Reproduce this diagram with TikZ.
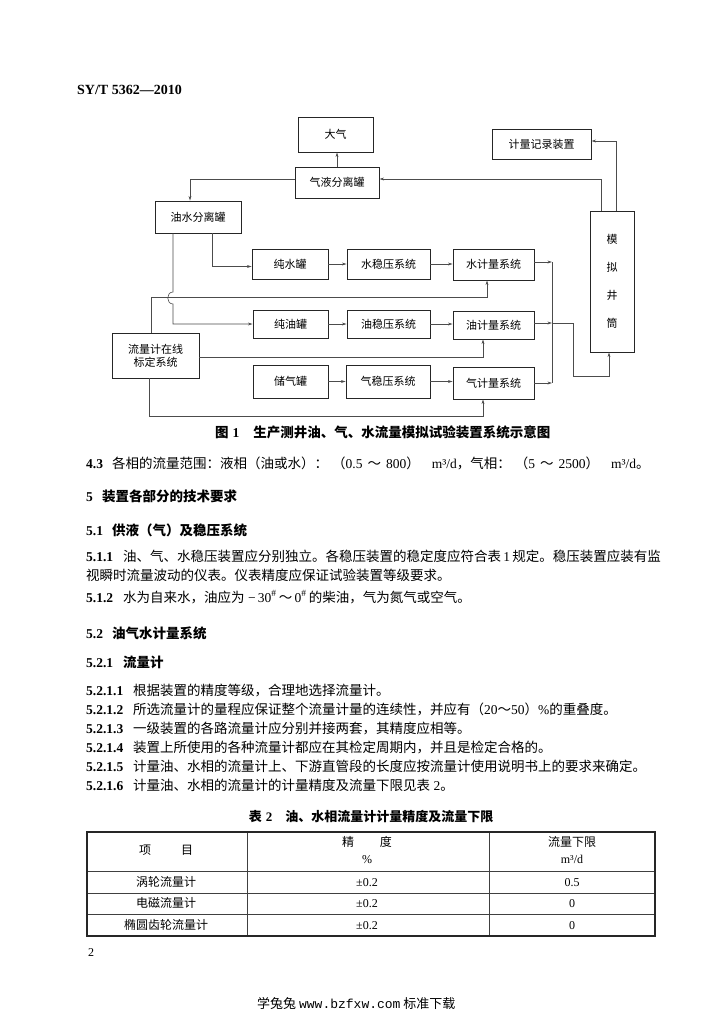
\documentclass[tikz,border=0pt]{standalone}
\usepackage{fontspec}
\setmainfont{Noto Sans CJK SC}
\newfontfamily\tm{Liberation Serif}
\newfontfamily\mono{Liberation Mono}
\usetikzlibrary{arrows.meta,calc}
\newcommand\fsz[1]{\fontsize{#1}{#1}\selectfont}
\begin{document}
\begin{tikzpicture}[x=1pt,y=-1pt,
  box/.style={draw=black!85,line width=0.9pt,inner sep=0pt,font=\fontsize{11}{13}\selectfont},
  conn/.style={draw=black!70,line width=0.6pt},
  arr/.style={conn,-{Stealth[length=4.5pt,width=2.8pt]}},
  txt/.style={anchor=base west,inner sep=0pt,font=\fsz{13.5}},
  btxt/.style={anchor=base west,inner sep=0pt,font=\fsz{13.5}\bfseries},
  num/.style={anchor=base west,inner sep=0pt,font=\fsz{13.5}\tm\bfseries},
  cell/.style={anchor=base,inner sep=0pt,font=\fsz{12}},
  tcell/.style={anchor=base,inner sep=0pt,font=\fsz{12}\tm},
  outer/.style={line width=1.1pt,draw=black!85},
  inner/.style={line width=0.6pt,draw=black!75}
]
\useasboundingbox (0,0) rectangle (725,1024);
\fill[white] (0,0) rectangle (725,1024);

% header
\node[anchor=base west,inner sep=0pt,font=\fsz{14}\tm\bfseries] (hdr) at (77,95) {SY/T 5362—2010};

% ---- diagram boxes ----
\node[box,minimum width=75pt,minimum height=35pt] (dq) at (335.5,134.5) {大气};
\node[box,minimum width=84pt,minimum height=31pt] (qy) at (337,182.5) {气液分离罐};
\node[box,minimum width=86pt,minimum height=32pt] (yw) at (198,217) {油水分离罐};
\node[box,minimum width=99pt,minimum height=30pt] (jl) at (541.5,144) {计量记录装置};
\node[box,minimum width=44pt,minimum height=141pt,align=center] (mn) at (612,281.5) {模\\[15pt]拟\\[15pt]井\\[15pt]筒};
\node[box,minimum width=76pt,minimum height=30pt] (cs) at (290,264) {纯水罐};
\node[box,minimum width=83pt,minimum height=30pt] (sw) at (388.5,264) {水稳压系统};
\node[box,minimum width=81pt,minimum height=31pt] (sj) at (493.5,264.5) {水计量系统};
\node[box,minimum width=75pt,minimum height=28pt] (cy) at (290.5,324) {纯油罐};
\node[box,minimum width=83pt,minimum height=28pt] (yw2) at (388.5,324) {油稳压系统};
\node[box,minimum width=81pt,minimum height=28pt] (yj) at (493.5,325) {油计量系统};
\node[box,minimum width=75pt,minimum height=33pt] (cq) at (290.5,381.5) {储气罐};
\node[box,minimum width=84pt,minimum height=33pt] (qw) at (388,381.5) {气稳压系统};
\node[box,minimum width=81pt,minimum height=32pt] (qj) at (493.5,383) {气计量系统};
\node[box,minimum width=87pt,minimum height=45pt,align=center] (ll) at (155.5,355.5) {流量计在线\\标定系统};

% ---- connectors ----
\draw[arr] (qy.north) -- (qy.north |- dq.south);
\draw[arr] ([yshift=3.5pt]qy.west) -| ([xshift=-8pt]yw.north);
\draw[arr] ([xshift=-11pt]mn.north) |- ([yshift=3.5pt]qy.east);
\draw[arr] ([xshift=4pt]mn.north) |- ([yshift=3pt]jl.east);
\draw[arr] ([xshift=14pt]yw.south) |- ([yshift=-2.5pt]cs.west);
\coordinate (h1) at (173,292);
\coordinate (h2) at (173,304);
\draw[arr] ([xshift=-25pt]yw.south) -- (h1) .. controls (166,292) and (166,304) .. (h2) |- (cy.west);
\draw[arr] ([xshift=-4.5pt]ll.north) -- ++(0,-35) -| ([xshift=-6.5pt]sj.south);
\draw[arr] ([yshift=-1.5pt]ll.east) -| ([xshift=-10.5pt]yj.south);
\draw[arr] ([xshift=-6.5pt]ll.south) -- ++(0,38) -| ([xshift=-10.5pt]qj.south);

\draw[arr] (cs.east) -- (cs.east -| sw.west);
\draw[arr] (sw.east) -- (sw.east -| sj.west);
\draw[arr] (cy.east) -- (cy.east -| yw2.west);
\draw[arr] (yw2.east) -- (yw2.east -| yj.west);
\draw[arr] (cq.east) -- (cq.east -| qw.west);
\draw[arr] (qw.east) -- (qw.east -| qj.west);

\coordinate (b1) at (552,262);
\coordinate (b2) at (552,323);
\coordinate (b3) at (552,383);
\coordinate (t1) at (573,376);
\draw[arr] ([yshift=2.5pt]sj.east) -- (b1);
\draw[arr] ([yshift=2pt]yj.east) -- (b2);
\draw[arr] (qj.east) -- (b3);
\draw[conn] (b1) -- (b3);
\draw[arr] (b2) -| (t1) -| ([xshift=-3pt]mn.south);

% caption
\node[btxt] (cap1) at (215,437) {图\hspace{4pt}{\tm 1}\hspace{14pt}生产测井油、气、水流量模拟试验装置系统示意图};

% ---- body text ----
\node[num] (n43) at (86,468) {4.3};
\node[txt] (t43) at (112,468) {各相的流量范围：液相（油或水）：\hspace{4pt}（{\tm 0.5}\hspace{5pt}～\hspace{5pt}{\tm 800}）\hspace{12pt}{\tm m³/d}，气相：\hspace{4pt}（{\tm 5}\hspace{5pt}～\hspace{5pt}{\tm 2500}）\hspace{12pt}{\tm m³/d}。};
\node[num] (n5) at (86,501) {5};
\node[btxt] (t5) at (102,501) {装置各部分的技术要求};
\node[num] (n51) at (86,535) {5.1};
\node[btxt] (t51) at (112,535) {供液（气）及稳压系统};
\node[num] (n511) at (86,561) {5.1.1};
\node[txt] (t511) at (123,561) {油、气、水稳压装置应分别独立。各稳压装置的稳定度应符合表{\tm\,1\,}规定。稳压装置应装有监};
\node[txt] (t511b) at (86,580) {视瞬时流量波动的仪表。仪表精度应保证试验装置等级要求。};
\node[num] (n512) at (86,602) {5.1.2};
\node[txt] (t512) at (123,602) {水为自来水，油应为{\tm\ −\,30\textsuperscript{\#}\,}～{\tm\,0\textsuperscript{\#}\,}的柴油，气为氮气或空气。};
\node[num] (n52) at (86,638) {5.2};
\node[btxt] (t52) at (112,638) {油气水计量系统};
\node[num] (n521) at (86,667) {5.2.1};
\node[btxt] (t521) at (123,667) {流量计};
\node[num] (n5211) at (86,695) {5.2.1.1};
\node[txt] (t5211) at (133,695) {根据装置的精度等级，合理地选择流量计。};
\node[num] (n5212) at (86,714) {5.2.1.2};
\node[txt] (t5212) at (133,714) {所选流量计的量程应保证整个流量计量的连续性，并应有（{\tm 20}～{\tm 50}）{\tm\%}的重叠度。};
\node[num] (n5213) at (86,733) {5.2.1.3};
\node[txt] (t5213) at (133,733) {一级装置的各路流量计应分别并接两套，其精度应相等。};
\node[num] (n5214) at (86,752) {5.2.1.4};
\node[txt] (t5214) at (133,752) {装置上所使用的各种流量计都应在其检定周期内，并且是检定合格的。};
\node[num] (n5215) at (86,771) {5.2.1.5};
\node[txt] (t5215) at (133,771) {计量油、水相的流量计上、下游直管段的长度应按流量计使用说明书上的要求来确定。};
\node[num] (n5216) at (86,790) {5.2.1.6};
\node[txt] (t5216) at (133,790) {计量油、水相的流量计的计量精度及流量下限见表{\tm\ 2}。};

% ---- table ----
\node[anchor=base,inner sep=0pt,font=\fsz{13}\bfseries] (tcap) at (371,821) {表\hspace{4pt}{\tm 2}\hspace{13pt}油、水相流量计计量精度及流量下限};
\draw[inner] (87,871) -- (655,871);
\draw[inner] (87,893) -- (655,893);
\draw[inner] (87,914) -- (655,914);
\draw[inner] (247,832) -- (247,936);
\draw[inner] (489,832) -- (489,936);
\draw[outer] (87,832) rectangle (655,936);

\node[cell] (h1c) at (166,854.5) {项\hspace{30pt}目};
\node[cell] (h2c) at (367,846.5) {精\hspace{26pt}度};
\node[tcell] (h2u) at (367,863) {\%};
\node[cell] (h3c) at (572,846.5) {流量下限};
\node[tcell] (h3u) at (572,863) {m³/d};

\node[cell] (r1a) at (166,886.5) {涡轮流量计};
\node[tcell] (r1b) at (367,886.5) {±0.2};
\node[tcell] (r1c) at (572,886.5) {0.5};
\node[cell] (r2a) at (166,907.5) {电磁流量计};
\node[tcell] (r2b) at (367,907.5) {±0.2};
\node[tcell] (r2c) at (572,907.5) {0};
\node[cell] (r3a) at (166,929.5) {椭圆齿轮流量计};
\node[tcell] (r3b) at (367,929.5) {±0.2};
\node[tcell] (r3c) at (572,929.5) {0};

% page number and footer
\node[anchor=base west,inner sep=0pt,font=\fsz{12}\tm] (pg) at (88,956) {2};
\node[anchor=base west,inner sep=0pt,font=\fsz{13}] (ft) at (257,1008) {学兔兔 {\mono www.bzfxw.com} 标准下载};
\end{tikzpicture}
\end{document}
